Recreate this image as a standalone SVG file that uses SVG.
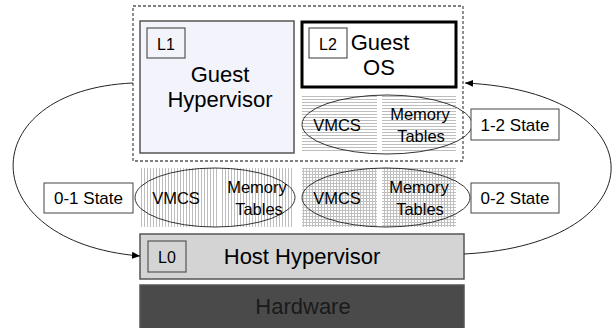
<svg xmlns="http://www.w3.org/2000/svg" width="613" height="328" viewBox="0 0 613 328">
<style>
text{font-family:"Liberation Sans",Arial,sans-serif;fill:#000;text-anchor:middle}
.big{font-size:22px}
.mid{font-size:16.5px}
.sl{font-size:17px}
.lbl{font-size:16px}
.box{stroke:#555;stroke-width:1.5}
.st{fill:#fff;stroke:#444;stroke-width:1}
.ell{fill:none;stroke:#333;stroke-width:1}
.conn{fill:none;stroke:#222;stroke-width:1}
</style>
<defs>
<pattern id="hp" width="4" height="3" patternUnits="userSpaceOnUse"><rect width="4" height="3" fill="#fff"/><line x1="0" y1="0.5" x2="4" y2="0.5" stroke="#bdbdbd" stroke-width="1"/></pattern>
<pattern id="vp" width="3" height="4" patternUnits="userSpaceOnUse"><rect width="3" height="4" fill="#fff"/><line x1="0.5" y1="0" x2="0.5" y2="4" stroke="#bdbdbd" stroke-width="1"/></pattern>
<pattern id="gp" width="3" height="3" patternUnits="userSpaceOnUse"><rect width="3" height="3" fill="#fff"/><line x1="0.5" y1="0" x2="0.5" y2="3" stroke="#c0c0c0" stroke-width="1"/><line x1="0" y1="0.5" x2="3" y2="0.5" stroke="#c0c0c0" stroke-width="1"/></pattern>
<marker id="arr" markerWidth="9" markerHeight="8" refX="8" refY="4" orient="auto" markerUnits="userSpaceOnUse"><path d="M0,0.5 L8,4 L0,7.5 Z" fill="#000"/></marker>
</defs>

<g id="hardware">
<rect x="140" y="285" width="324" height="46" fill="#4a4a4a" stroke="#555" stroke-width="1.5"/>
<text x="303" y="314" style="font-size:22px;fill:#1a1a1a">Hardware</text>
</g>

<g id="host-hypervisor">
<rect x="140" y="234" width="324" height="45" fill="#d4d4d4" class="box"/>
<rect x="148" y="241" width="38" height="31" fill="#d4d4d4" stroke="#555" stroke-width="1.2"/>
<text x="167" y="263" class="lbl">L0</text>
<text x="302" y="264" style="font-size:22px">Host Hypervisor</text>
</g>

<g id="guest-level">
<rect x="133" y="6" width="330" height="155" fill="none" stroke="#555" stroke-width="1.3" stroke-dasharray="3,2"/>
</g>

<g id="guest-hypervisor">
<rect x="140" y="21" width="154" height="132" fill="#f3f3fb" class="box"/>
<rect x="147" y="28" width="38" height="30" fill="#f3f3fb" stroke="#555" stroke-width="1.2"/>
<text x="166" y="50" class="lbl">L1</text>
<text x="220" y="82" class="big">Guest</text>
<text x="220" y="107" class="big">Hypervisor</text>
</g>

<g id="guest-os">
<rect x="302" y="22" width="154" height="65" fill="#fff" stroke="#000" stroke-width="3"/>
<rect x="309" y="28" width="38" height="30" fill="#fff" stroke="#555" stroke-width="1.2"/>
<text x="328" y="50" class="lbl">L2</text>
<text x="380" y="50" class="big">Guest</text>
<text x="379" y="75" class="big">OS</text>
</g>

<g id="state-1-2">
<rect x="302" y="95" width="75" height="58" fill="url(#hp)"/>
<rect x="382" y="95" width="74" height="58" fill="url(#hp)"/>
<ellipse cx="387" cy="124.5" rx="85" ry="29.5" class="ell"/>
<text x="337" y="131" class="mid">VMCS</text>
<text x="420" y="120" class="mid">Memory</text>
<text x="421" y="142" class="mid">Tables</text>
</g>

<g id="state-0-1">
<rect x="141" y="168" width="76" height="59" fill="url(#vp)"/>
<rect x="222" y="168" width="71" height="59" fill="url(#vp)"/>
<ellipse cx="215" cy="197.5" rx="80" ry="29.5" class="ell"/>
<text x="176" y="204" class="mid">VMCS</text>
<text x="257" y="193" class="mid">Memory</text>
<text x="259" y="215" class="mid">Tables</text>
</g>

<g id="state-0-2">
<rect x="302" y="168" width="75" height="59" fill="url(#gp)"/>
<rect x="382" y="168" width="74" height="59" fill="url(#gp)"/>
<ellipse cx="386" cy="197.5" rx="84" ry="29.5" class="ell"/>
<text x="337" y="204" class="mid">VMCS</text>
<text x="419" y="193" class="mid">Memory</text>
<text x="420" y="215" class="mid">Tables</text>
</g>

<g id="label-0-1">
<rect x="44" y="183" width="89" height="30" class="st"/>
<text x="88.5" y="204" class="sl">0-1 State</text>
</g>
<g id="label-1-2">
<rect x="471" y="109" width="88" height="31" class="st"/>
<text x="515" y="131" class="sl">1-2 State</text>
</g>
<g id="label-0-2">
<rect x="471" y="183" width="88" height="30" class="st"/>
<text x="515" y="204" class="sl">0-2 State</text>
</g>

<g id="connectors">
<path d="M133,83 C-28,90 -28,242 140,256" class="conn" marker-end="url(#arr)"/>
<path d="M464,254 C660,244 660,92 465,83" class="conn" marker-end="url(#arr)"/>
</g>
</svg>
